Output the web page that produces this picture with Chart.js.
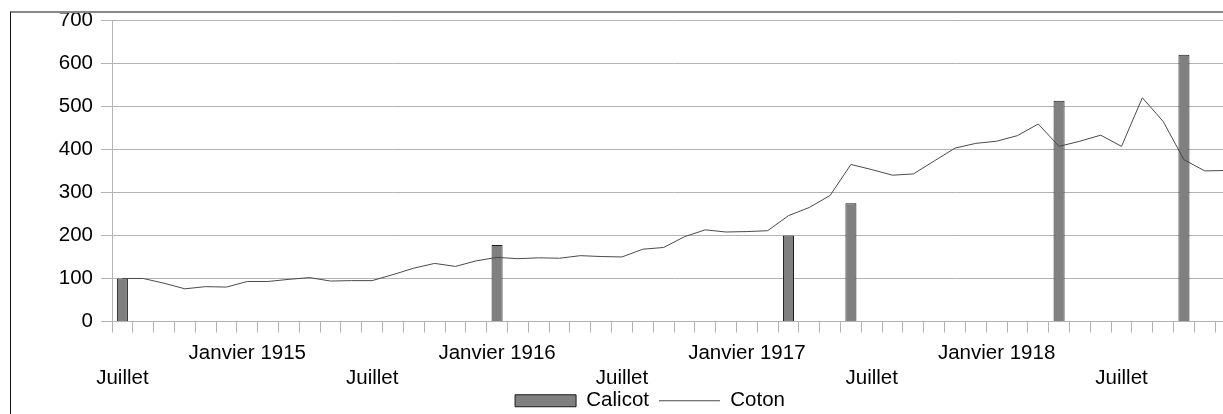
<!DOCTYPE html>
<html>
<head>
<meta charset="utf-8">
<script src="https://cdn.jsdelivr.net/npm/chart.js@4/dist/chart.umd.min.js"></script>
<style>
    html, body { margin: 0; padding: 0; background: #fff; overflow: hidden; }
    #wrap { position: relative; width: 1223px; height: 414px; overflow: hidden; }
    #chart { position: absolute; left: 0; top: 0; }
    #frame {
        position: absolute; left: 10px; top: 11px; right: -10px; bottom: -10px;
        border-left: 1px solid #111; border-top: 2px solid #888;
        pointer-events: none;
    }
</style>
</head>
<body>
<div id="wrap">
    <canvas id="chart" width="1236" height="421"></canvas>
    <div id="frame"></div>
</div>
<script>
// Monthly, from July 1914
const startYear = 1914;
const monthCount = 54;

// Calicot: only a few observations [month index, value]
const calicotPoints = [
    [0, 100], [18, 178], [32, 200], [35, 275], [45, 513], [51, 620]
];

// Coton: one value per month
const coton = [
    100, 100, 89, 76, 81, 80, 93, 93, 98, 102,
    94, 95, 95, 109, 124, 135, 128, 141, 149, 146,
    148, 147, 153, 151, 150, 168, 172, 197, 213, 208,
    209, 211, 246, 265, 293, 365, 353, 340, 343, 373,
    403, 414, 419, 432, 459, 407, 419, 433, 407, 520,
    465, 376, 350, 351
];

const yTicks = [0, 100, 200, 300, 400, 500, 600, 700];

const calicot = [];
for (let i = 0; i < monthCount; i++) calicot.push(null);
calicotPoints.forEach(p => { calicot[p[0]] = p[1]; });

// Axis labels: "Juillet" on the second row, "Janvier <year>" on the first
const labels = [];
for (let i = 0; i < monthCount; i++) {
    const m = i % 12;
    if (m === 0) labels.push(['', 'Juillet']);
    else if (m === 6) labels.push(['Janvier ' + (startYear + 1 + Math.floor(i / 12))]);
    else labels.push('');
}

const font = { family: '"Liberation Sans", Arial, sans-serif', size: 20.5 };
const gridColor = '#b3b3b3';

// Labels may run past the axis box (into the legend strip), so don't clip them
const noLabelClip = scale => { scale._computeLabelArea = () => undefined; };

new Chart(document.getElementById('chart'), {
    type: 'bar',
    data: {
        labels: labels,
        datasets: [{
            type: 'line',
            label: 'Coton',
            data: coton,
            borderColor: '#4a4a4a',
            backgroundColor: '#4a4a4a',
            borderWidth: 1,
            pointRadius: 0,
            pointStyle: 'line',
            tension: 0
        }, {
            label: 'Calicot',
            data: calicot,
            backgroundColor: '#808080',
            borderColor: '#1a1a1a',
            borderWidth: 1,
            pointStyle: 'rect',
            barPercentage: 0.53,
            categoryPercentage: 1
        }]
    },
    options: {
        responsive: false,
        animation: false,
        layout: { padding: { left: 64, right: 0, top: 19, bottom: 0 } },
        scales: {
            x: {
                offset: true,
                grid: {
                    offset: true,
                    drawOnChartArea: false,
                    color: gridColor,
                    tickLength: 11
                },
                border: { color: gridColor },
                ticks: {
                    autoSkip: false,
                    maxRotation: 0,
                    padding: 8,
                    color: '#000',
                    font: { family: font.family, size: font.size, lineHeight: 1.22 }
                },
                afterFit: scale => { scale.height = 59; noLabelClip(scale); }
            },
            y: {
                min: 0,
                max: 700,
                afterBuildTicks: scale => {
                    scale.ticks = yTicks.map(v => ({ value: v }));
                },
                grid: { color: gridColor, tickLength: 11 },
                border: { color: gridColor },
                ticks: { padding: 8, color: '#000', font: font },
                afterFit: scale => { scale.width = 48; noLabelClip(scale); }
            }
        },
        plugins: {
            legend: {
                position: 'bottom',
                reverse: true,
                labels: {
                    usePointStyle: true,
                    pointStyleWidth: 61,
                    boxHeight: 12,
                    padding: 10,
                    color: '#000',
                    font: font
                }
            },
            tooltip: { enabled: false }
        }
    }
});
</script>
</body>
</html>
